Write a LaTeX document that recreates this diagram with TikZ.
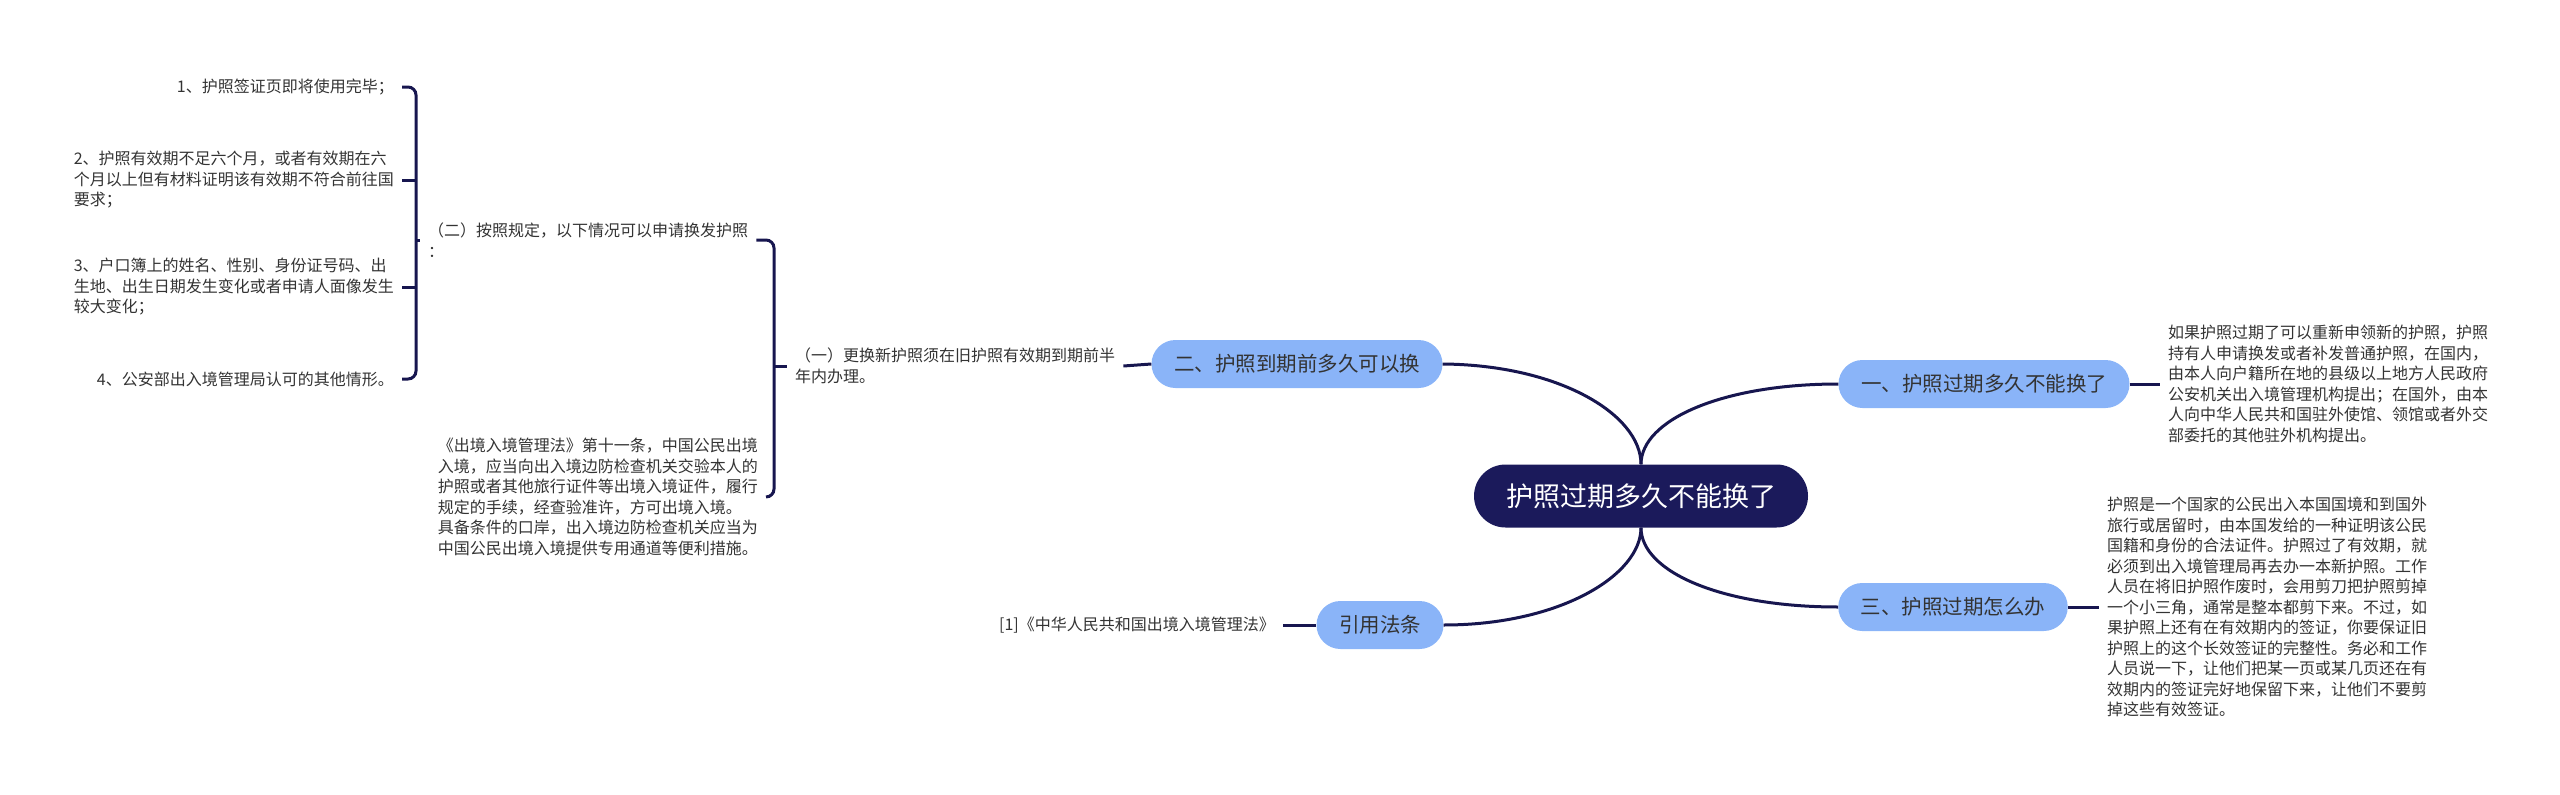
\documentclass[tikz,border=0pt]{standalone}
\usepackage{fontspec}
\setmainfont{Noto Sans CJK SC}
\definecolor{navy}{HTML}{1B1A5B}
\definecolor{lblue}{HTML}{8AB4F8}
\definecolor{txt}{HTML}{333333}
\definecolor{linec}{HTML}{17164F}
\begin{document}
\begin{tikzpicture}[x=1pt,y=-1pt,
  conn/.style={draw=linec,line width=3pt},
  brk/.style={draw=linec,line width=3pt,rounded corners=8pt},
  root/.style={fill=navy,text=white,rounded corners=31.5pt,minimum width=334pt,minimum height=63pt,inner sep=0pt,font=\fontsize{27}{32}\selectfont},
  topic/.style={fill=lblue,text=txt,rounded corners=24pt,minimum height=48pt,inner xsep=22.5pt,inner ysep=0pt,font=\fontsize{20.5}{24}\selectfont},
  leaf/.style={text=txt,align=left,inner xsep=8pt,inner ysep=2pt,font=\fontsize{16}{20.5}\selectfont},
]
\useasboundingbox (0,0) rectangle (2560,795);

% central and main topics
\node[root] (C) at (1641,496) {护照过期多久不能换了};
\node[topic] (B2) at (1297,364) {二、护照到期前多久可以换};
\node[topic] (B1) at (1984,384) {一、护照过期多久不能换了};
\node[topic] (B3) at (1953,607) {三、护照过期怎么办};
\node[topic] (B4) at (1380,625) {引用法条};

\draw[conn] (C.north) .. controls (1641,415) and (1560,365) .. (B2.east);
\draw[conn] (C.north) .. controls (1641,420) and (1722,384) .. (B1.west);
\draw[conn] (C.south) .. controls (1641,572) and (1722,607) .. (B3.west);
\draw[conn] (C.south) .. controls (1641,575) and (1560,625) .. (B4.east);

% right leaves
\node[leaf,anchor=west] (L1) at (2160,384) {如果护照过期了可以重新申领新的护照，护照\\持有人申请换发或者补发普通护照，在国内，\\由本人向户籍所在地的县级以上地方人民政府\\公安机关出入境管理机构提出；在国外，由本\\人向中华人民共和国驻外使馆、领馆或者外交\\部委托的其他驻外机构提出。};
\draw[conn] (B1.east) -- (L1.west);

\node[leaf,anchor=west] (L3) at (2099,607) {护照是一个国家的公民出入本国国境和到国外\\旅行或居留时，由本国发给的一种证明该公民\\国籍和身份的合法证件。护照过了有效期，就\\必须到出入境管理局再去办一本新护照。工作\\人员在将旧护照作废时，会用剪刀把护照剪掉\\一个小三角，通常是整本都剪下来。不过，如\\果护照上还有在有效期内的签证，你要保证旧\\护照上的这个长效签证的完整性。务必和工作\\人员说一下，让他们把某一页或某几页还在有\\效期内的签证完好地保留下来，让他们不要剪\\掉这些有效签证。};
\draw[conn] (B3.east) -- (L3.west);

\node[leaf,anchor=east] (L4) at (1283,625) {[1]《中华人民共和国出境入境管理法》};
\draw[conn] (L4.east) -- (B4.west);

% left branch
\node[leaf,anchor=west] (Yi) at (787,366) {（一）更换新护照须在旧护照有效期到期前半\\年内办理。};
\draw[conn] (Yi.east) -- (B2.west);

\node[leaf,anchor=west] (Er) at (420,240) {（二）按照规定，以下情况可以申请换发护照\\：};
\node[leaf,anchor=east] (Law) at (766,497) {《出境入境管理法》第十一条，中国公民出境\\入境，应当向出入境边防检查机关交验本人的\\护照或者其他旅行证件等出境入境证件，履行\\规定的手续，经查验准许，方可出境入境。\\具备条件的口岸，出入境边防检查机关应当为\\中国公民出境入境提供专用通道等便利措施。};

\coordinate (k2) at (774,0);
\draw[brk] (Er.east) -- (Er.east -| k2) -- (Law.east -| k2) -- (Law.east);
\draw[conn] (Yi.west -| k2) -- (Yi.west);

\node[leaf,anchor=east] (I1) at (402,87) {1、护照签证页即将使用完毕；};
\node[leaf,anchor=east] (I2) at (402,180) {2、护照有效期不足六个月，或者有效期在六\\个月以上但有材料证明该有效期不符合前往国\\要求；};
\node[leaf,anchor=east] (I3) at (402,287) {3、户口簿上的姓名、性别、身份证号码、出\\生地、出生日期发生变化或者申请人面像发生\\较大变化；};
\node[leaf,anchor=east] (I4) at (402,379) {4、公安部出入境管理局认可的其他情形。};

\coordinate (k1) at (416,0);
\draw[brk] (I1.east) -- (I1.east -| k1) -- (I4.east -| k1) -- (I4.east);
\draw[conn] (I2.east) -- (I2.east -| k1);
\draw[conn] (I3.east) -- (I3.east -| k1);
\draw[conn] (Er.west -| k1) -- (Er.west);
\end{tikzpicture}
\end{document}
